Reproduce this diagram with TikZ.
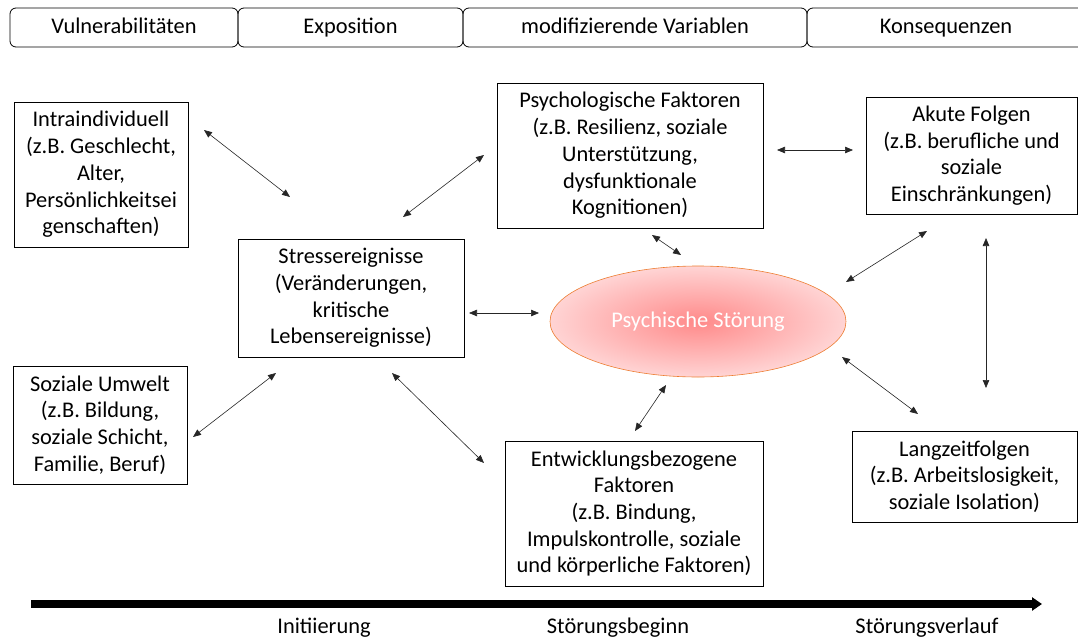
\documentclass[tikz,border=0pt]{standalone}
\usepackage{fontspec}
\setmainfont{Carlito}
\usetikzlibrary{arrows.meta, shapes.geometric}
\definecolor{psyinner}{RGB}{255,138,138}
\definecolor{psyouter}{RGB}{255,212,212}
\definecolor{psyline}{RGB}{237,125,49}
\tikzset{
  tab/.style={draw, rounded corners=6pt, line width=0.8pt, minimum height=39pt, inner sep=0pt, text height=16pt, text depth=4pt, font=\fontsize{22.4}{26.7}\selectfont},
  box/.style={draw, line width=0.9pt, inner sep=0pt, align=center, font=\fontsize{22.4}{26.7}\selectfont},
  link/.style={{Triangle[length=8pt,width=6.5pt]}-{Triangle[length=8pt,width=6.5pt]}, line width=0.6pt, black!85},
  phase/.style={font=\fontsize{22.4}{26.7}\selectfont, anchor=base}
}

\begin{document}
\begin{tikzpicture}[x=1pt, y=-1pt]
\useasboundingbox (0,0) rectangle (1078,642);

% Kopfzeile
\node[tab, minimum width=228pt] (vul) at (124,27.5) {Vulnerabilitäten};
\node[tab, minimum width=225pt] (expo) at (350.5,27.5) {Exposition};
\node[tab, minimum width=344pt] (modi) at (635,27.5) {modifizierende Variablen};
\node[tab, minimum width=278pt] (kons) at (946,27.5) {Konsequenzen};

% Kästen
\node[box, minimum width=174pt, minimum height=145pt] (intra) at (101,174.5) {Intraindividuell\\(z.B. Geschlecht,\\Alter,\\Persönlichkeitsei\\genschaften)};
\node[box, minimum width=174pt, minimum height=118pt] (sozial) at (100,425) {Soziale Umwelt\\(z.B. Bildung,\\soziale Schicht,\\Familie, Beruf)};
\node[box, minimum width=226pt, minimum height=118pt] (stress) at (351,298) {Stressereignisse\\(Veränderungen,\\kritische\\Lebensereignisse)};
\node[box, minimum width=266pt, minimum height=145pt] (psych) at (630,155.5) {Psychologische Faktoren\\(z.B. Resilienz, soziale\\Unterstützung,\\dysfunktionale\\Kognitionen)};
\node[box, minimum width=258pt, minimum height=145pt] (entw) at (634,513.5) {Entwicklungsbezogene\\Faktoren\\(z.B. Bindung,\\Impulskontrolle, soziale\\und körperliche Faktoren)};
\node[box, minimum width=211pt, minimum height=117pt] (akut) at (971.5,155.5) {Akute Folgen\\(z.B. berufliche und\\soziale\\Einschränkungen)};
\node[box, minimum width=225pt, minimum height=91pt] (lang) at (964.5,476.5) {Langzeitfolgen\\(z.B. Arbeitslosigkeit,\\soziale Isolation)};

\node[ellipse, draw=psyline, line width=0.6pt, inner color=psyinner, outer color=psyouter, minimum width=296pt, minimum height=111pt, text=white, font=\fontsize{22.4}{26.7}\selectfont] (stoer) at (698,321.5) {Psychische Störung};

% Pfeilenden
\coordinate (intra-a) at (204,130);  \coordinate (stress-a) at (290,197);
\coordinate (stress-b) at (403,217); \coordinate (psych-a) at (484,155);
\coordinate (stress-c) at (469,313); \coordinate (stoer-a) at (539,313);
\coordinate (psych-b) at (652,235);  \coordinate (stoer-b) at (681,255);
\coordinate (psych-c) at (777,150);  \coordinate (akut-a) at (853,150);
\coordinate (stoer-c) at (846,282);  \coordinate (akut-b) at (927,231);
\coordinate (akut-c) at (986,238);   \coordinate (lang-a) at (986,388);
\coordinate (stoer-d) at (842,357);  \coordinate (lang-b) at (918,414);
\coordinate (stoer-e) at (666,385);  \coordinate (entw-a) at (635,431);
\coordinate (stress-d) at (392,373); \coordinate (entw-b) at (484,463);
\coordinate (sozial-a) at (193,437); \coordinate (stress-e) at (276,373);

\draw[link] (intra-a) -- (stress-a);
\draw[link] (stress-b) -- (psych-a);
\draw[link] (stress-c) -- (stoer-a);
\draw[link] (psych-b) -- (stoer-b);
\draw[link] (psych-c) -- (akut-a);
\draw[link] (stoer-c) -- (akut-b);
\draw[link] (akut-c) -- (lang-a);
\draw[link] (stoer-d) -- (lang-b);
\draw[link] (stoer-e) -- (entw-a);
\draw[link] (stress-d) -- (entw-b);
\draw[link] (sozial-a) -- (stress-e);

% Zeitachse
\coordinate (t0) at (31,604);
\coordinate (t1) at (1042,604);
\draw[line width=8pt, -{Triangle[length=10pt,width=13pt]}] (t0) -- (t1);
\node[phase] (init) at (324,633) {Initiierung};
\node[phase] (beginn) at (618,633) {Störungsbeginn};
\node[phase] (verlauf) at (927,633) {Störungsverlauf};
\end{tikzpicture}
\end{document}
